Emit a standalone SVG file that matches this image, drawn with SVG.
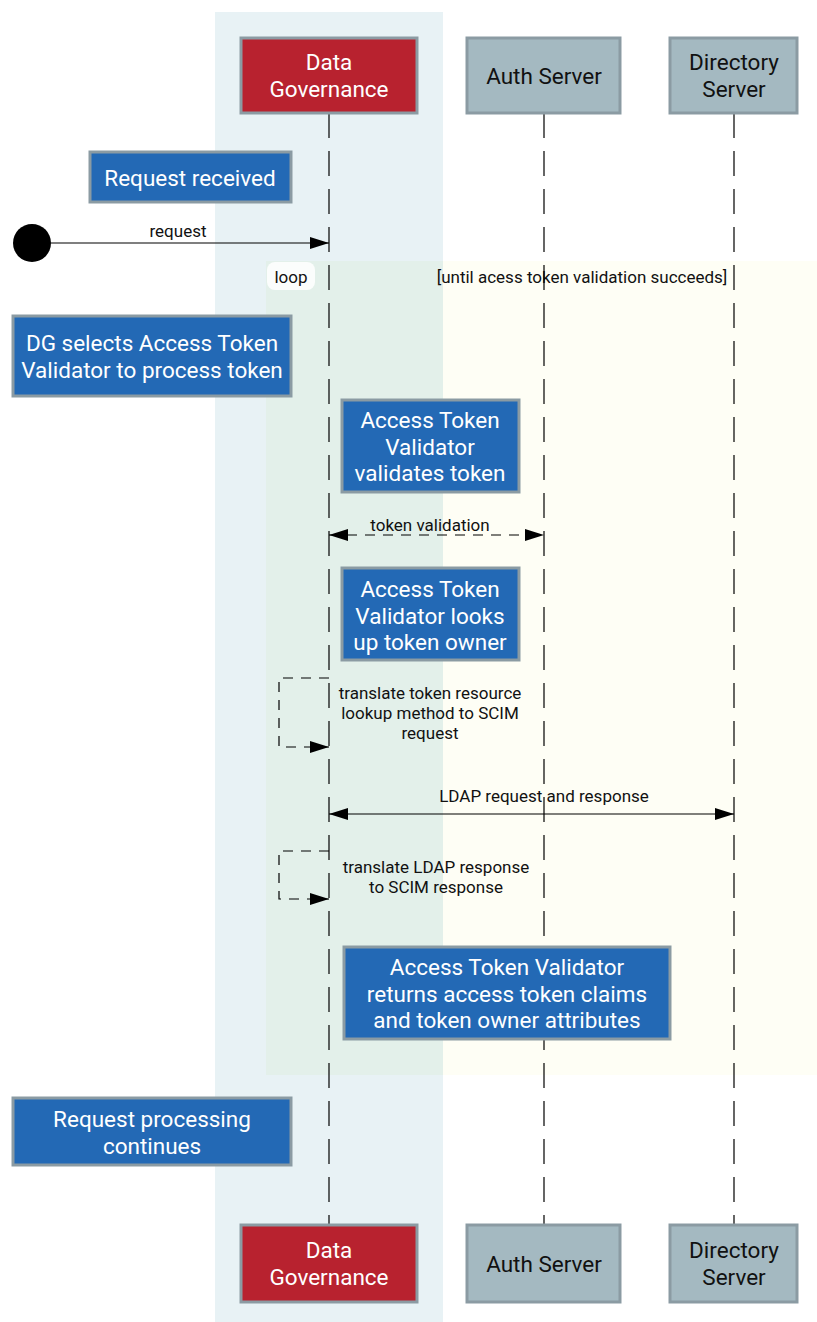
<svg xmlns="http://www.w3.org/2000/svg" width="817" height="1322" viewBox="0 0 817 1322">
  <defs>
    <style>
      text { font-family: Roboto, "Liberation Sans", sans-serif; }
      .part { stroke: #8b9ba3; stroke-width: 3; }
      .dg { fill: #b8222f; }
      .srv { fill: #a4b9c1; }
      .ptxt { font-size: 22.5px; text-anchor: middle; }
      .note rect { fill: #2369b5; stroke: #8b9ba3; stroke-width: 3; }
      .note text { fill: #ffffff; font-size: 22.5px; text-anchor: middle; }
      .life { stroke: #000; stroke-width: 1.2; stroke-dasharray: 25 13; fill: none; }
      .msg { stroke: #000; stroke-width: 1.2; fill: none; }
      .dash { stroke-dasharray: 10 8; }
      .lbl { font-size: 17px; fill: #111; text-anchor: middle; }
    </style>
    <marker id="arrow" viewBox="0 0 19 12" refX="19" refY="6" markerWidth="19" markerHeight="12" markerUnits="userSpaceOnUse" orient="auto-start-reverse">
      <path d="M0,0 L19,6 L0,12 Z" fill="#000"/>
    </marker>
  </defs>

  <rect width="817" height="1322" fill="#ffffff"/>

  <!-- highlighted Data Governance column -->
  <rect x="215" y="12" width="228" height="1310" fill="#e8f2f5"/>

  <!-- loop fragment -->
  <g id="loop">
    <rect x="266" y="261" width="177" height="814" fill="#e3f0ea"/>
    <rect x="443" y="261" width="374" height="814" fill="#fefef5"/>
    <rect x="267" y="262" width="48" height="28" rx="8" fill="#ffffff" fill-opacity="0.85"/>
    <text x="291" y="283" class="lbl">loop</text>
    <text x="582" y="283" class="lbl">[until acess token validation succeeds]</text>
  </g>

  <!-- lifelines -->
  <g id="lifelines">
    <line class="life" x1="329" y1="113" x2="329" y2="1225"/>
    <line class="life" x1="544" y1="113" x2="544" y2="1225"/>
    <line class="life" x1="734" y1="113" x2="734" y2="1225"/>
  </g>

  <!-- participants (top) -->
  <g id="dg-top">
    <rect class="part dg" x="241" y="38" width="176" height="75"/>
    <text class="ptxt" fill="#ffffff" x="329" y="70">Data</text>
    <text class="ptxt" fill="#ffffff" x="329" y="97">Governance</text>
  </g>
  <g id="auth-top">
    <rect class="part srv" x="467" y="38" width="153" height="75"/>
    <text class="ptxt" fill="#111" x="544" y="84">Auth Server</text>
  </g>
  <g id="dir-top">
    <rect class="part srv" x="670" y="38" width="127" height="75"/>
    <text class="ptxt" fill="#111" x="734" y="70">Directory</text>
    <text class="ptxt" fill="#111" x="734" y="97">Server</text>
  </g>

  <!-- participants (bottom) -->
  <g id="dg-bottom">
    <rect class="part dg" x="241" y="1225" width="176" height="77"/>
    <text class="ptxt" fill="#ffffff" x="329" y="1258">Data</text>
    <text class="ptxt" fill="#ffffff" x="329" y="1285">Governance</text>
  </g>
  <g id="auth-bottom">
    <rect class="part srv" x="467" y="1225" width="153" height="77"/>
    <text class="ptxt" fill="#111" x="544" y="1272">Auth Server</text>
  </g>
  <g id="dir-bottom">
    <rect class="part srv" x="670" y="1225" width="127" height="77"/>
    <text class="ptxt" fill="#111" x="734" y="1258">Directory</text>
    <text class="ptxt" fill="#111" x="734" y="1285">Server</text>
  </g>

  <!-- start point -->
  <g id="start">
    <circle cx="32" cy="243" r="19" fill="#000"/>
  </g>

  <!-- messages -->
  <g id="connectors">
    <line class="msg" x1="51" y1="243" x2="329" y2="243" marker-end="url(#arrow)"/>
    <text class="lbl" x="178" y="237">request</text>

    <line class="msg dash" x1="329" y1="535" x2="544" y2="535" marker-start="url(#arrow)" marker-end="url(#arrow)"/>
    <text class="lbl" x="430" y="531">token validation</text>

    <path class="msg dash" d="M329,678 H279 V747 H329" marker-end="url(#arrow)"/>
    <text class="lbl" x="430" y="699">translate token resource</text>
    <text class="lbl" x="430" y="719">lookup method to SCIM</text>
    <text class="lbl" x="430" y="739">request</text>

    <line class="msg" x1="329" y1="814" x2="734" y2="814" marker-start="url(#arrow)" marker-end="url(#arrow)"/>
    <text class="lbl" x="544" y="802">LDAP request and response</text>

    <path class="msg dash" d="M329,851 H279 V899 H329" marker-end="url(#arrow)"/>
    <text class="lbl" x="436" y="873">translate LDAP response</text>
    <text class="lbl" x="436" y="893">to SCIM response</text>
  </g>

  <!-- notes -->
  <g id="note-received" class="note">
    <rect x="90" y="152" width="201" height="50"/>
    <text x="190" y="186">Request received</text>
  </g>
  <g id="note-selects" class="note">
    <rect x="13" y="316" width="278" height="80"/>
    <text x="152" y="351">DG selects Access Token</text>
    <text x="152" y="378">Validator to process token</text>
  </g>
  <g id="note-validates" class="note">
    <rect x="342" y="400" width="177" height="92"/>
    <text x="430" y="428">Access Token</text>
    <text x="430" y="455">Validator</text>
    <text x="430" y="481">validates token</text>
  </g>
  <g id="note-lookup" class="note">
    <rect x="342" y="568" width="177" height="92"/>
    <text x="430" y="597">Access Token</text>
    <text x="430" y="624">Validator looks</text>
    <text x="430" y="650">up token owner</text>
  </g>
  <g id="note-returns" class="note">
    <rect x="344" y="947" width="326" height="92"/>
    <text x="507" y="975">Access Token Validator</text>
    <text x="507" y="1002">returns access token claims</text>
    <text x="507" y="1028">and token owner attributes</text>
  </g>
  <g id="note-continues" class="note">
    <rect x="13" y="1098" width="278" height="67"/>
    <text x="152" y="1127">Request processing</text>
    <text x="152" y="1154">continues</text>
  </g>
</svg>
